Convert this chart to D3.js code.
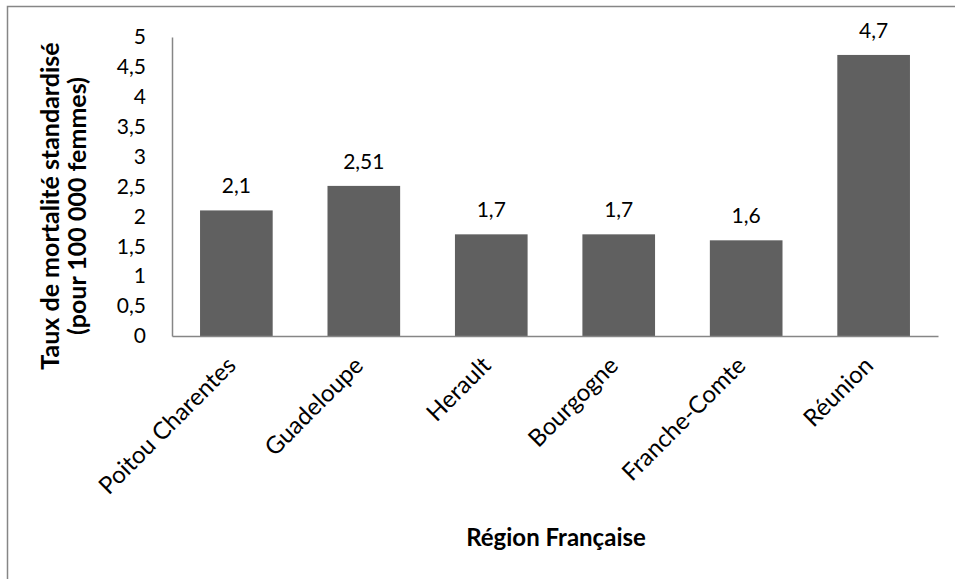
<!doctype html>
<html>
<head>
<meta charset="utf-8">
<script src="https://cdnjs.cloudflare.com/ajax/libs/d3/7.8.5/d3.min.js"></script>
<style>
  body { margin: 0; background: #fff; }
  text { font-family: "Lato", "Open Sans", sans-serif; fill: #000; }
</style>
</head>
<body>
<svg id="chart" width="955" height="579"></svg>
<script>
var regions = ["Poitou Charentes", "Guadeloupe", "Herault", "Bourgogne", "Franche-Comte", "Réunion"];
var taux = [2.1, 2.51, 1.7, 1.7, 1.6, 4.7];
var yTicks = [0, 0.5, 1, 1.5, 2, 2.5, 3, 3.5, 4, 4.5, 5];

var svg = d3.select("#chart");
var fr = function(v) { return String(v).replace(".", ","); };

// cadre
svg.append("rect")
  .attr("x", 7.5).attr("y", 6.5)
  .attr("width", 960).attr("height", 600)
  .attr("fill", "none").attr("stroke", "#868686").attr("stroke-width", 1.5);

var x = d3.scaleBand().domain(regions).range([172, 938])
  .paddingInner(0.43).paddingOuter(0.22);
var y = d3.scaleLinear().domain([0, 5]).range([336, 37]);

// barres
svg.selectAll("rect.bar")
  .data(taux)
  .enter().append("rect")
  .attr("class", "bar")
  .attr("x", function(d, i) { return x(regions[i]); })
  .attr("y", function(d) { return y(d); })
  .attr("width", x.bandwidth())
  .attr("height", function(d) { return y(0) - y(d); })
  .attr("fill", "#606060");

// axes
var yAxis = d3.axisLeft(y).tickValues(yTicks).tickSize(0).tickPadding(26).tickFormat(fr);
var gy = svg.append("g").attr("transform", "translate(172,0)").call(yAxis);
gy.select(".domain").attr("stroke", "#868686").attr("stroke-width", 1.5);
gy.selectAll("text").style("font-size", "21px").attr("font-family", null);

var xAxis = d3.axisBottom(x).tickSize(0).tickFormat("");
var gx = svg.append("g").attr("transform", "translate(0,336)").call(xAxis);
gx.select(".domain").attr("stroke", "#868686").attr("stroke-width", 1.5);

// libellés des catégories
svg.selectAll("text.cat")
  .data(regions)
  .enter().append("text")
  .attr("class", "cat")
  .attr("transform", function(d) {
    return "translate(" + (x(d) + x.bandwidth() / 2 + 1) + ",367) rotate(-45)";
  })
  .attr("text-anchor", "end")
  .style("font-size", "24px")
  .text(function(d) { return d; });

// étiquettes de valeurs
svg.selectAll("text.val")
  .data(taux)
  .enter().append("text")
  .attr("class", "val")
  .attr("x", function(d, i) { return x(regions[i]) + x.bandwidth() / 2; })
  .attr("y", function(d) { return y(d) - 17; })
  .attr("text-anchor", "middle")
  .style("font-size", "21px")
  .text(fr);

// titres des axes
var yt = svg.append("text")
  .attr("transform", "translate(0,206) rotate(-90)")
  .attr("text-anchor", "middle")
  .style("font-size", "25px")
  .style("font-weight", "bold");
yt.append("tspan").attr("x", 0).attr("y", 59).text("Taux de mortalité standardisé");
yt.append("tspan").attr("x", 0).attr("y", 86).text("(pour 100 000 femmes)");

svg.append("text")
  .attr("x", 556).attr("y", 546)
  .attr("text-anchor", "middle")
  .style("font-size", "24px")
  .style("font-weight", "bold")
  .text("Région Française");
</script>
</body>
</html>
